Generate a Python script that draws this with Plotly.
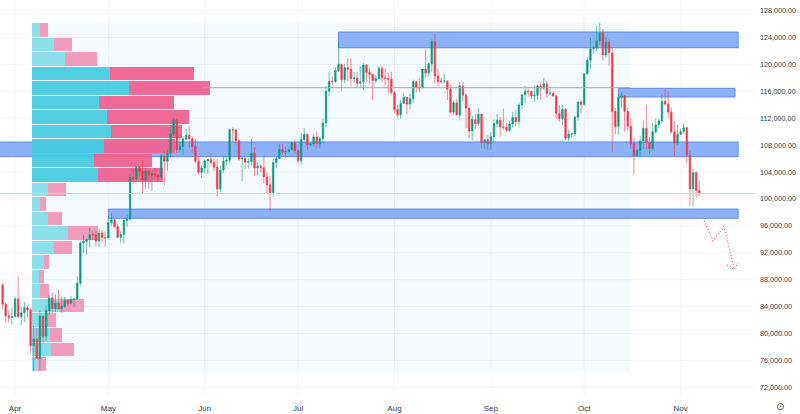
import plotly.graph_objects as go
import pandas as pd

first_day = "2025-03-28"
opens = [87200,84350,82650,82400,82550,85150,82500,83100,83850,83500,78200,79200,76300,82600,79600,83400,85300,83700,84550,83650,84050,84950,84450,85050,85150,87500,93450,93700,93950,94700,94650,93750,94950,94250,
94200,96500,96900,95900,94300,94700,96800,97000,103200,102950,104700,104100,102800,104150,103500,103750,103500,103200,106400,105600,106800,109700,111700,107300,107800,108900,109450,108950,107800,105600,103950,
104600,105650,105850,105400,104700,101500,104300,105600,105750,110300,110250,108650,105950,106050,105450,105550,106800,104600,104850,104650,103300,102100,100950,105400,106000,107350,106950,107050,107300,108350,
107150,105700,108850,109600,108000,108200,109200,108250,108950,111300,116000,117500,117400,119100,120000,117700,119500,119300,117900,117950,117200,117400,119900,118800,118500,117600,117900,119400,118000,117900,117800,
115800,113300,112500,114200,115100,114100,114900,117400,116600,116500,119300,118700,120100,123400,118300,117400,117500,117500,116300,112900,114300,112500,116800,115400,113500,110100,111800,111200,112600,108400,108800,
108200,109250,111200,111700,110700,110650,110200,111150,112100,111500,113950,115500,116000,115950,115300,115400,116800,116450,117100,115650,115700,115300,112700,111950,113300,109050,109650,109650,112150,114400,
114050,118600,120600,122300,122400,123500,124700,121400,123300,121700,113000,110800,115100,115300,113000,110800,108200,106400,107200,108600,110500,108400,107500,110000,111000,111600,114500,114100,112900,110000,108300,
109600,110000,110600,106500,101500,103900,101300]
highs = [87500,84600,83500,83900,85500,88500,83900,84700,84200,83800,81200,80800,83500,82700,84200,85800,86100,85800,86500,85500,85500,85100,85600,85300,88500,93800,94700,94000,95700,95300,95300,95600,95400,95200,
97400,97900,97000,96300,95200,96900,97700,103800,104400,104900,104900,105800,104900,104400,104200,104600,103700,106700,107100,107300,110700,112000,111900,109500,109300,110400,110800,109300,108900,106300,105000,
105900,105950,106800,106000,105900,105000,106400,106400,110500,110600,110400,108800,106200,106200,106100,108900,107700,105500,105200,106500,104000,103400,106000,106300,108100,108200,107800,107600,108500,108800,
107500,109800,110500,109700,108400,109700,110000,109200,111900,116800,118900,118200,119500,123200,120000,120000,120900,120900,118900,118900,119700,120200,120000,119500,118600,118400,119800,119800,119300,118800,118900,
116000,114000,114800,115700,115100,115600,117700,117600,117900,119300,122300,120300,123700,124500,119400,118000,118600,117600,117000,114600,114800,117400,117400,115700,113600,112400,112600,113500,112600,108900,109500,
109900,111800,112600,112200,113400,111300,111600,112900,113200,114300,115500,116800,116400,116100,116800,117000,117300,118000,117500,116300,116000,115400,114000,114000,113500,110300,109800,112400,114500,114800,
118700,121000,123900,122800,125700,126200,125200,124100,123700,122500,113500,115600,115900,115400,113600,112000,109100,107500,109400,111700,114000,109200,111300,112000,111900,115500,116400,116000,113600,111600,111000,
110500,111200,110700,107200,104500,104100,102700]
lows = [83600,81650,81600,81300,82400,82300,81200,81700,82400,77100,74500,76200,74600,78500,78900,82800,83100,83200,83600,83100,83800,84100,84350,83900,85100,87100,91950,91700,92800,93900,92900,92800,93600,92900,
94100,96000,95600,94200,93500,93400,95800,97000,102300,102800,103400,100800,101500,101500,101200,103100,102600,103100,102000,104200,106100,109300,106800,106900,106600,108700,107600,106800,105300,103600,103100,
103800,103700,104900,104200,100400,101000,103900,105000,105300,108400,108100,105700,102600,104500,104500,104900,103400,103500,103900,102300,100800,98200,100300,104600,105900,106500,106100,106900,107200,106700,
105300,105100,108600,107300,107800,107800,107500,107500,108350,110600,115300,116900,117300,118900,116000,117200,117500,116800,117300,116500,116500,116200,117300,117100,114700,117200,117800,117400,116900,115700,115500,
112700,112000,111900,114100,112600,113300,114300,115800,115900,116500,118100,118200,118900,117200,116800,117200,117200,114700,112700,112400,112600,111700,114500,110500,109000,108700,110400,110900,107500,107400,107300,
107300,108400,110600,109300,110200,109900,110000,110600,110800,110900,113400,114200,115200,114800,114400,114700,114800,116200,115100,115500,115200,111900,111500,111000,108700,108600,109100,109300,111600,112700,
113900,118400,119300,121600,122000,123000,120600,121000,119800,107000,109700,109600,113600,110000,110200,107500,103500,106300,106200,107400,107400,106700,107200,109700,110500,111200,113800,112000,109700,106300,108000,
109500,109700,105300,98900,98900,100300,100500]
closes = [84350,82650,82400,82550,85150,82500,83100,83850,83500,78200,79200,76300,82600,79600,83400,85300,83700,84550,83650,84050,84950,84450,85050,85150,87500,93450,93700,93950,94700,94650,93750,94950,94250,94200,
96500,96900,95900,94300,94700,96800,97000,103200,102950,104700,104100,102800,104150,103500,103750,103500,103200,106400,105600,106800,109700,111700,107300,107800,108900,109450,108950,107800,105600,103950,104600,
105650,105850,105400,104700,101500,104300,105600,105750,110300,110250,108650,105950,106050,105450,105550,106800,104600,104850,104650,103300,102100,100950,105400,106000,107350,106950,107050,107300,108350,107150,
105700,108850,109600,108000,108200,109200,108250,108950,111300,116000,117500,117400,119100,120000,117700,119500,119300,117900,117950,117200,117400,119900,118800,118500,117600,117900,119400,118000,117900,117800,115800,
113300,112500,114200,115100,114100,114900,117400,116600,116500,119300,118700,120100,123400,118300,117400,117500,117500,116300,112900,114300,112500,116800,115400,113500,110100,111800,111200,112600,108400,108800,108200,
109250,111200,111700,110700,110650,110200,111150,112100,111500,113950,115500,116000,115950,115300,115400,116800,116450,117100,115650,115700,115300,112700,111950,113300,109050,109650,109650,112150,114400,114050,
118600,120600,122300,122400,123500,124700,121400,123300,121700,113000,110800,115100,115300,113000,110800,108200,106400,107200,108600,110500,108400,107500,110000,111000,111600,114500,114100,112900,110000,108300,109600,
110000,110600,106500,101500,103900,101300,100900]
dates = pd.date_range(first_day, periods=len(closes), freq="D")

profile_mid = [125120,122965,120810,118650,116490,114335,112180,110020,107865,105705,103550,101390,99235,97080,94920,92765,90610,88450,86295,84135,81980,79820,77665,75510]
profile_up = [8,22,33,78,97,67,75,79,72,62,66,16,8,16,36,22,12,7,8,28,15,18,19,6]
profile_down = [8,18,32,84,81,75,82,71,71,58,65,18,6,14,30,18,5,5,9,24,9,12,23,8]
profile_strong = [0,0,0,1,1,1,1,1,1,1,1,0,0,0,0,0,0,0,0,0,0,0,0,0]

zone_start = ["2025-07-14", "2025-03-20", "2025-10-12", "2025-05-01"]
zone_end = ["2025-11-19 12:00", "2025-11-19 12:00", "2025-11-18 12:00", "2025-11-19 12:00"]
zone_high = [124800, 108460, 116440, 98500]
zone_low = [122470, 106290, 115150, 97120]

poc_dates = ["2025-05-31", "2025-10-15 16:00"]
poc_price = [116530, 116530]
last_dates = ["2025-03-20", "2025-12-10"]
last_price = [100810, 100810]
path_dates = ["2025-11-08 05:00", "2025-11-11 10:00", "2025-11-15", "2025-11-18 05:00"]
path_price = [97170, 93800, 95880, 89550]
head_dates = ["2025-11-16", "2025-11-18 05:00", "2025-11-19 12:00"]
head_price = [90190, 89550, 90480]

y_ticks = list(range(72000, 128001, 4000))
month_ticks = ["2025-04-01", "2025-05-01", "2025-06-01", "2025-07-01", "2025-08-01", "2025-09-01", "2025-10-01", "2025-11-01"]
month_labels = ["Apr", "May", "Jun", "Jul", "Aug", "Sep", "Oct", "Nov"]

TEAL, TEAL_L = "rgba(68,202,224,0.93)", "rgba(130,220,232,0.92)"
PINK, PINK_L = "rgba(238,100,146,0.96)", "rgba(240,150,182,0.94)"
RED, GREEN = "#F23645", "#089981"
GRID = "#f5f6f7"

fig = go.Figure()
fig.add_bar(y=profile_mid, x=profile_up, orientation="h", width=2010, xaxis="x", yaxis="y",
            marker=dict(color=[TEAL if s else TEAL_L for s in profile_strong], line_width=0), showlegend=False)
fig.add_bar(y=profile_mid, x=profile_down, orientation="h", width=2010, xaxis="x", yaxis="y",
            marker=dict(color=[PINK if s else PINK_L for s in profile_strong], line_width=0), showlegend=False)
fig.add_candlestick(x=dates, open=opens, high=highs, low=lows, close=closes, xaxis="x2", yaxis="y",
                    increasing=dict(line=dict(color=GREEN, width=0.6), fillcolor=GREEN),
                    decreasing=dict(line=dict(color=RED, width=0.6), fillcolor=RED), showlegend=False)
fig.add_scatter(x=poc_dates, y=poc_price, xaxis="x2", yaxis="y", mode="lines",
                line=dict(color="#a8a8a8", width=1), showlegend=False)
fig.add_scatter(x=last_dates, y=last_price, xaxis="x2", yaxis="y", mode="lines",
                line=dict(color="#f8c9ce", width=1), showlegend=False)
fig.add_scatter(x=path_dates, y=path_price, xaxis="x2", yaxis="y", mode="lines",
                line=dict(color="#ee5a72", width=1.2, dash="1px,2px"), showlegend=False)
fig.add_scatter(x=head_dates, y=head_price, xaxis="x2", yaxis="y", mode="lines",
                line=dict(color="#ee5a72", width=1.2, dash="1px,2px"), showlegend=False)

shapes = []
for m in month_ticks:
    shapes.append(dict(type="line", xref="x2", yref="paper", x0=m, x1=m, y0=0, y1=1,
                       line=dict(color=GRID, width=1), layer="below"))
for v in y_ticks:
    shapes.append(dict(type="line", xref="paper", yref="y", x0=0, x1=1, y0=v, y1=v,
                       line=dict(color=GRID, width=1), layer="below"))
shapes.append(dict(type="rect", xref="x2", yref="y", x0="2025-04-06 12:00", x1="2025-10-15 16:00", y0=74430, y1=126200,
               fillcolor="rgba(30,160,240,0.05)", line_width=0, layer="below"))
for a, b, lo, hi in zip(zone_start, zone_end, zone_low, zone_high):
    shapes.append(dict(type="rect", xref="x2", yref="y", x0=a, x1=b, y0=lo, y1=hi,
                       fillcolor="#8db1f7", line=dict(color="#5f8fe8", width=1), layer="below"))

font = "Liberation Sans"
fig.update_layout(
    width=800, height=414, margin=dict(l=0, r=45, t=0, b=19), autosize=False,
    paper_bgcolor="white", plot_bgcolor="white", barmode="stack", bargap=0,
    shapes=shapes, showlegend=False,
    xaxis=dict(range=[-32, 723], visible=False, showgrid=False, fixedrange=True),
    xaxis2=dict(type="date", overlaying="x", anchor="y", side="bottom", rangeslider=dict(visible=False),
                range=["2025-03-27 04:00", "2025-11-24 22:00"], tickmode="array",
                tickvals=month_ticks, ticktext=month_labels, ticklen=0, ticklabelstandoff=7,
                tickfont=dict(family=font, size=8, color="#333a44"),
                showgrid=False, showline=False, zeroline=False),
    yaxis=dict(side="right", range=[70870, 129560], tickmode="array", tickvals=y_ticks,
               ticktext=[f"{v:,.2f}" for v in y_ticks], ticklen=0, ticklabelstandoff=4,
               tickfont=dict(family=font, size=7.2, color="#333a44"),
               showgrid=False, showline=False, zeroline=False),
    annotations=[dict(xref="paper", yref="paper", x=1.0331, y=-0.029, text="⊙", showarrow=False,
                      xanchor="center", yanchor="middle",
                      font=dict(family="DejaVu Sans", size=10, color="#444b55"))],
)
fig.write_html("out.html", config=dict(displayModeBar=False),
               post_script="document.body.style.margin='0';document.documentElement.style.overflow='hidden';")
